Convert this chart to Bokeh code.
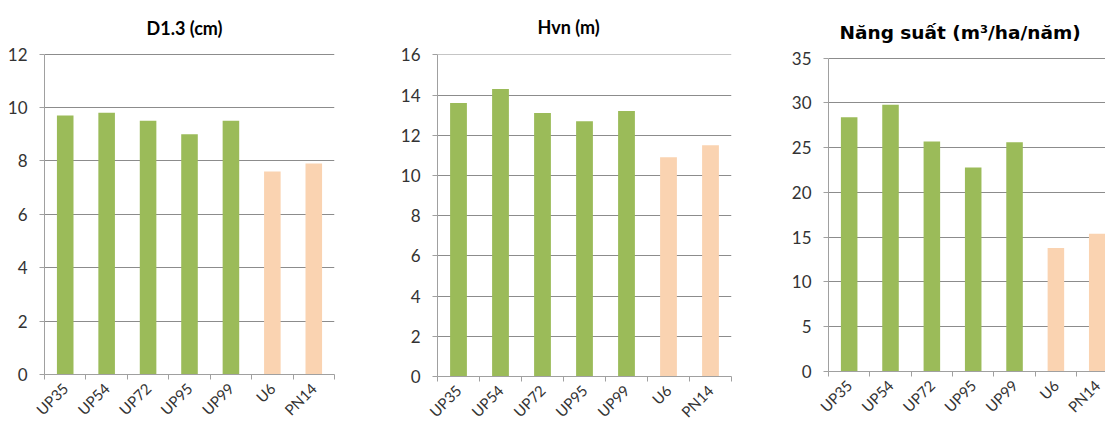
import math
from bokeh.plotting import figure
from bokeh.layouts import row, column
from bokeh.models import Range1d, FixedTicker, CustomJSTickFormatter, ColumnDataSource, Title
from bokeh.embed import file_html
from bokeh.resources import INLINE

names = ["UP35", "UP54", "UP72", "UP95", "UP99", "U6", "PN14"]
groups = ["UP", "UP", "UP", "UP", "UP", "ref", "ref"]
d13 = [9.7, 9.8, 9.5, 9.0, 9.5, 7.6, 7.9]
hvn = [13.6, 14.3, 13.1, 12.7, 13.2, 10.9, 11.5]
nang_suat = [28.4, 29.8, 25.7, 22.8, 25.6, 13.8, 15.4]

titles = ["D1.3 (cm)", "Hvn (m)", "Năng suất (m³/ha/năm)"]
y_max = [12, 16, 35]
y_step = [2, 2, 5]

GREEN = "#9BBB59"
PEACH = "#FAD3B1"
GRID = "#8C8C8C"
AXIS = "#A0A0A0"
TXT = "#333333"
group_color = {"UP": GREEN, "ref": PEACH}


def make_panel(values, title, ymax, ystep, width, left, right, x_end,
               top, zero_px, top_px, title_font, title_size, title_standoff, title_offset):
    n = len(names)
    xs = [i + 0.5 for i in range(n)]
    src = ColumnDataSource(dict(x=xs, top=values, name=names,
                                color=[group_color[g] for g in groups]))
    ppu = (zero_px - top_px) / ymax
    y1 = ymax + (top_px - top) / ppu
    bottom = int(429 - zero_px)
    p = figure(width=width, height=429, output_backend="svg", toolbar_location=None,
               x_range=Range1d(0, x_end), y_range=Range1d(0, y1),
               min_border_left=left, min_border_right=right,
               min_border_top=top, min_border_bottom=bottom)
    p.outline_line_color = None
    p.background_fill_color = "white"
    p.border_fill_color = "white"
    p.vbar(x="x", top="top", width=0.4, bottom=0, color="color", line_color=None, source=src)

    p.title = Title(text=title, align="left", vertical_align="top",
                    text_font=title_font, text_font_size=f"{title_size}px",
                    text_font_style="bold", text_color="#000000",
                    standoff=title_standoff, offset=title_offset)

    yt = FixedTicker(ticks=list(range(0, ymax + 1, ystep)))
    p.yaxis.ticker = yt
    p.yaxis.bounds = (0, ymax)
    p.ygrid.ticker = yt
    p.ygrid.grid_line_color = GRID
    p.xgrid.grid_line_color = None
    p.yaxis.axis_line_color = AXIS
    p.yaxis.major_tick_line_color = AXIS
    p.yaxis.major_tick_out = 5
    p.yaxis.major_tick_in = 0
    p.yaxis.minor_tick_line_color = None
    p.yaxis.major_label_text_font = "Lato"
    p.yaxis.major_label_text_font_size = "17px"
    p.yaxis.major_label_text_color = TXT
    p.yaxis.major_label_standoff = 12

    xt = FixedTicker(ticks=xs, minor_ticks=list(range(n + 1)))
    p.xaxis.ticker = xt
    p.xaxis.formatter = CustomJSTickFormatter(args=dict(names=names),
                                              code="return names[Math.floor(tick)] || '';")
    p.xaxis.axis_line_color = AXIS
    p.xaxis.major_tick_line_color = None
    p.xaxis.major_tick_out = 0
    p.xaxis.major_tick_in = 0
    p.xaxis.minor_tick_line_color = AXIS
    p.xaxis.minor_tick_out = 5
    p.xaxis.minor_tick_in = 0
    p.xaxis.major_label_orientation = math.pi / 4
    p.xaxis.major_label_text_font = "Lato"
    p.xaxis.major_label_text_font_size = "15px"
    p.xaxis.major_label_text_line_height = 0.5
    p.xaxis.major_label_text_color = TXT
    p.xaxis.major_label_standoff = 6
    return p


p1 = make_panel(d13, titles[0], y_max[0], y_step[0], 392, 44, 58, 7,
                53, 374, 53.5, "Lato", 18, 26, 102)
p2 = make_panel(hvn, titles[1], y_max[1], y_step[1], 393, 45, 54, 7,
                54, 378, 54.3, "Lato", 18, 30, 100)
p3 = make_panel(nang_suat, titles[2], y_max[2], y_step[2], 320, 43, 0, 6.7,
                57, 371, 57.7, "DejaVu Sans", 18.5, 25, 11)

layout = row(column(p1), column(p2), column(p3), spacing=0)
open("out.html", "w").write(file_html(layout, INLINE))
